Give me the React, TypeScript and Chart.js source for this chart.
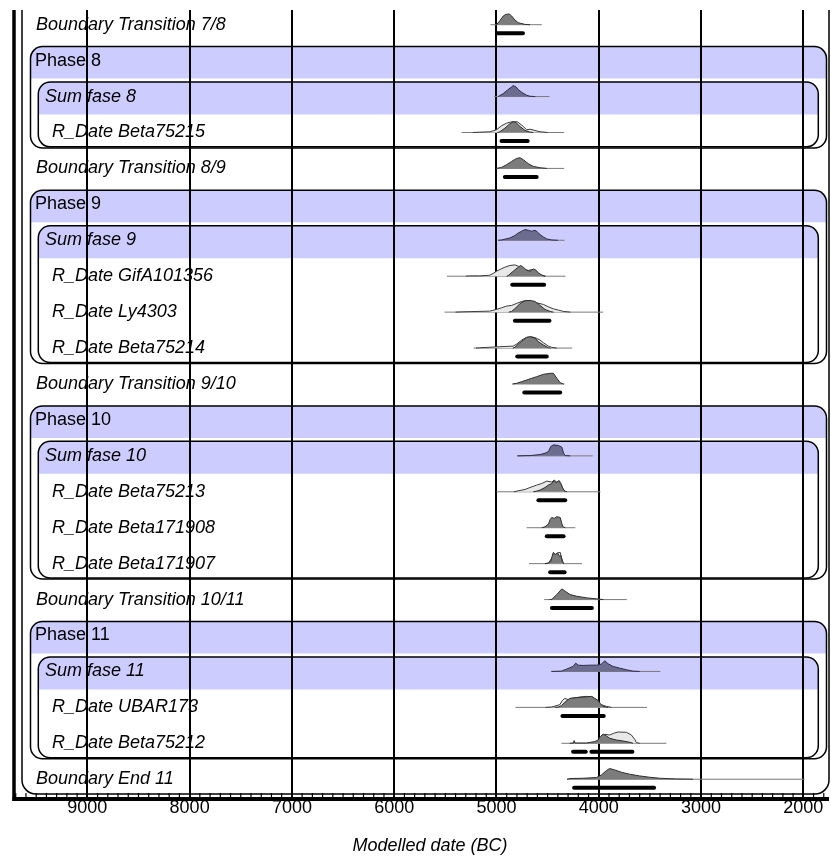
import React, { useEffect, useRef } from 'react';
import { Chart, registerables } from 'chart.js';

Chart.register(...registerables);

// ---------- Data ----------
const rowLabels = [
  'Boundary Transition 7/8',
  'Phase 8',
  'Sum fase 8',
  'R_Date Beta75215',
  'Boundary Transition 8/9',
  'Phase 9',
  'Sum fase 9',
  'R_Date GifA101356',
  'R_Date Ly4303',
  'R_Date Beta75214',
  'Boundary Transition 9/10',
  'Phase 10',
  'Sum fase 10',
  'R_Date Beta75213',
  'R_Date Beta171908',
  'R_Date Beta171907',
  'Boundary Transition 10/11',
  'Phase 11',
  'Sum fase 11',
  'R_Date UBAR173',
  'R_Date Beta75212',
  'Boundary End 11',
];
const rowKinds = [
  'boundary', 'phase', 'sum', 'date', 'boundary', 'phase', 'sum', 'date', 'date', 'date', 'boundary',
  'phase', 'sum', 'date', 'date', 'date', 'boundary', 'phase', 'sum', 'date', 'date', 'boundary',
];
const tickYears = [9000, 8000, 7000, 6000, 5000, 4000, 3000, 2000];
const minorTickYears = [
  9700, 9600, 9500, 9400, 9300, 9200, 9100, 9000, 8900, 8800, 8700, 8600, 8500, 8400, 8300, 8200, 8100,
  8000, 7900, 7800, 7700, 7600, 7500, 7400, 7300, 7200, 7100, 7000, 6900, 6800, 6700, 6600, 6500, 6400,
  6300, 6200, 6100, 6000, 5900, 5800, 5700, 5600, 5500, 5400, 5300, 5200, 5100, 5000, 4900, 4800, 4700,
  4600, 4500, 4400, 4300, 4200, 4100, 4000, 3900, 3800, 3700, 3600, 3500, 3400, 3300, 3200, 3100, 3000,
  2900, 2800, 2700, 2600, 2500, 2400, 2300, 2200, 2100, 2000, 1900, 1800,
];
const phaseStartRows = [1, 5, 11, 17];
const phaseEndRows = [3, 9, 15, 20];
const sumRows = [2, 6, 12, 18];

// distributions: [year BC, relative density]
const post0 = [[5000, 0], [4967, 4], [4934, 8.7], [4908, 10.3], [4875, 10.7], [4852, 8.7], [4820, 4.7], [4787, 2], [4721, 0.3], [4672, 0]];
const sum2 = [[4984, 0], [4967, 1], [4934, 3], [4895, 6.3], [4852, 9.7], [4836, 11], [4810, 9.7], [4787, 7], [4754, 4.3], [4705, 1.3], [4672, 0.3], [4620, 0]];
const like3 = [[5230, 0], [5164, 0.3], [5066, 0.7], [5000, 2.7], [4951, 6.7], [4902, 9.3], [4852, 10.7], [4797, 10.7], [4770, 8.7], [4738, 6], [4705, 2.7], [4672, 3.3], [4623, 2], [4574, 0.7], [4500, 0]];
const post3 = [[4990, 0], [4967, 0.7], [4918, 4.3], [4869, 8.7], [4836, 10.7], [4810, 10], [4770, 6], [4721, 2], [4672, 0.3], [4640, 0]];
const post4 = [[5000, 0], [4951, 1], [4902, 3.7], [4852, 7], [4803, 10], [4770, 10.7], [4738, 8.7], [4688, 4.7], [4639, 2], [4574, 0.7], [4508, 0]];
const sum6 = [[4984, 0], [4951, 0.3], [4869, 2.3], [4820, 4.7], [4787, 7.3], [4754, 9], [4721, 10.7], [4688, 10], [4656, 9], [4623, 10], [4600, 8.3], [4574, 5.7], [4541, 3.3], [4508, 1.3], [4459, 0.3], [4400, 0]];
const like7 = [[5300, 0], [5262, 0.3], [5164, 0.3], [5066, 1], [5033, 2.7], [5000, 5], [4967, 6.7], [4918, 9], [4869, 10.7], [4820, 11.3], [4787, 10], [4754, 6.7], [4721, 6.7], [4688, 5.7], [4656, 6.7], [4623, 5], [4590, 2.7], [4557, 0.7], [4520, 0]];
const post7 = [[4900, 0], [4885, 0.7], [4836, 5], [4797, 8.3], [4764, 10.7], [4738, 9], [4705, 6], [4672, 5], [4639, 7.3], [4613, 6], [4590, 3.3], [4557, 1.3], [4525, 0]];
const like8 = [[5400, 0], [5328, 0.3], [5066, 1], [5000, 2.7], [4951, 4.3], [4902, 6], [4852, 6.7], [4803, 8.7], [4754, 10.7], [4705, 11.7], [4672, 11], [4607, 9.3], [4541, 7.7], [4492, 5.3], [4443, 3.3], [4393, 2], [4344, 0.7], [4279, 0]];
const post8 = [[4880, 0], [4852, 0.7], [4810, 4.3], [4770, 8.7], [4721, 11.3], [4672, 11.7], [4623, 10.7], [4574, 6.7], [4525, 2.7], [4475, 0.7], [4443, 0]];
const like9 = [[5200, 0], [5164, 0.3], [4836, 2], [4803, 4], [4754, 8], [4705, 10.7], [4656, 11.3], [4613, 10], [4574, 8], [4541, 5.3], [4492, 2], [4459, 0.7], [4410, 0]];
const post9 = [[4840, 0], [4820, 0.7], [4787, 4], [4738, 8], [4705, 10.7], [4672, 11.3], [4623, 10], [4590, 6.3], [4541, 3], [4492, 0.3], [4470, 0]];
const post10 = [[4843, 0], [4803, 0.7], [4754, 2.3], [4705, 4], [4656, 5.7], [4607, 7.3], [4541, 9.7], [4469, 10.7], [4443, 10.7], [4410, 5.7], [4377, 1.3], [4344, 0]];
const sum12 = [[4797, 0], [4672, 0.3], [4574, 1.3], [4525, 2.7], [4492, 4.3], [4469, 9.3], [4443, 11], [4393, 10.3], [4361, 8.7], [4344, 2.7], [4328, 0.3], [4279, 0]];
const like13 = [[4830, 0], [4787, 1], [4721, 2.3], [4672, 4.3], [4607, 6.7], [4557, 8.3], [4508, 10.7], [4459, 9.7], [4436, 11.7], [4410, 9.7], [4384, 11], [4361, 5], [4334, 0.7], [4310, 0]];
const post13 = [[4640, 0], [4607, 0.7], [4574, 1.7], [4525, 4.3], [4492, 6.7], [4459, 8.3], [4436, 11], [4416, 9], [4393, 11], [4370, 8.3], [4351, 3.3], [4328, 0]];
const post14 = [[4557, 0], [4525, 1], [4492, 3.7], [4475, 8.3], [4459, 10.3], [4436, 9.3], [4410, 11], [4377, 10.3], [4361, 4.3], [4351, 1], [4328, 0]];
const like15 = [[4525, 0], [4492, 0.5], [4456, 6], [4443, 10.7], [4426, 9], [4403, 10.7], [4377, 11.3], [4361, 5], [4344, 0]];
const post15 = [[4525, 0], [4492, 0.7], [4469, 2.3], [4456, 7.3], [4443, 11.3], [4426, 9], [4403, 10.7], [4384, 7.3], [4370, 8], [4357, 2.3], [4344, 0]];
const post16 = [[4480, 0], [4458, 0.3], [4410, 5], [4361, 10.7], [4328, 8.3], [4280, 5], [4214, 3.3], [4116, 1.7], [4019, 0.7], [3954, 0]];
const sum18 = [[4463, 0], [4365, 0.3], [4316, 2.3], [4251, 5], [4225, 8.3], [4202, 6.3], [4153, 6], [4088, 6.3], [4023, 6.3], [3974, 7.3], [3941, 10.7], [3909, 7.7], [3860, 5], [3795, 3.3], [3730, 1.7], [3665, 0.3], [3600, 0]];
const like19 = [[4520, 0], [4463, 0.3], [4381, 2.7], [4355, 7], [4332, 9], [4300, 7.7], [4251, 9.3], [4186, 10.3], [4121, 11], [4055, 10.3], [4023, 6], [3974, 2.7], [3925, 1], [3876, 0]];
const post19 = [[4430, 0], [4397, 0.3], [4365, 1.7], [4332, 5], [4283, 9], [4218, 9.7], [4153, 10.3], [4072, 11], [4039, 9], [4007, 7], [3984, 3.7], [3958, 1], [3909, 0]];
const like20 = [[4023, 0], [3974, 6.7], [3941, 9], [3893, 8.3], [3854, 10], [3811, 11.3], [3730, 11], [3681, 8.3], [3648, 4], [3632, 0.7], [3600, 0]];
const post20 = [[4283, 0], [4248, 0.3], [4241, 2.7], [4232, 0.3], [4121, 0.3], [4039, 1.7], [4007, 3.3], [3984, 6.7], [3958, 9.3], [3925, 7.3], [3893, 5], [3828, 3.3], [3762, 2.3], [3697, 1], [3665, 0]];
const post21 = [[4310, 0], [4283, 0.7], [4153, 1], [4023, 1.7], [3974, 4.3], [3925, 8.7], [3893, 10.7], [3844, 9.3], [3779, 7], [3697, 5], [3600, 3.3], [3502, 2], [3404, 1], [3241, 0.3], [3078, 0]];

const posteriors = [
  [0, post0], [3, post3], [4, post4], [7, post7], [8, post8], [9, post9], [10, post10], [13, post13],
  [14, post14], [15, post15], [16, post16], [19, post19], [20, post20], [21, post21],
];
const sums = [[2, sum2], [6, sum6], [12, sum12], [18, sum18]];
const likelihoods = [[3, like3], [7, like7], [8, like8], [9, like9], [13, like13], [15, like15], [19, like19], [20, like20]];

// [row, from, to] (years BC)
const extents = [
  [0, 5059, 4557], [2, 5023, 4482], [3, 5341, 4338], [4, 5000, 4338], [6, 4984, 4334], [7, 5485, 4325],
  [8, 5508, 3957], [9, 5223, 4259], [10, 4843, 4334], [12, 4797, 4059], [13, 5000, 3983], [14, 4705, 4229],
  [15, 4682, 4164], [16, 4534, 3725], [18, 4463, 3398], [19, 4814, 3528], [20, 4365, 3339], [21, 4310, 1987],
];
const ranges = [
  [0, 4993, 4741], [3, 4951, 4695], [4, 4918, 4607], [7, 4846, 4534], [8, 4820, 4482], [9, 4797, 4508],
  [10, 4728, 4377], [13, 4590, 4328], [14, 4508, 4344], [15, 4475, 4334], [16, 4458, 4067], [19, 4355, 3951],
  [20, 4251, 4127], [20, 4072, 3671], [21, 4241, 3459],
];

// ---------- Style ----------
const DENSITY_TO_ROW = 1 / 35.9;
const RANGE_OFFSET = 0.237;
const FONT = '"Liberation Sans", Arial, Helvetica, sans-serif';
const LAVENDER = '#ccccff';
const W = 831;
const H = 857;

function roundRectPath(ctx, x, y, w, h, r) {
  ctx.beginPath();
  ctx.moveTo(x + r, y);
  ctx.lineTo(x + w - r, y);
  ctx.arcTo(x + w, y, x + w, y + r, r);
  ctx.lineTo(x + w, y + h - r);
  ctx.arcTo(x + w, y + h, x + w - r, y + h, r);
  ctx.lineTo(x + r, y + h);
  ctx.arcTo(x, y + h, x, y + h - r, r);
  ctx.lineTo(x, y + r);
  ctx.arcTo(x, y, x + r, y, r);
  ctx.closePath();
}

const oxcalPlugin = {
  id: 'oxcal',
  beforeDraw(chart) {
    const { ctx, chartArea: ca } = chart;
    const y = chart.scales.y;
    ctx.save();
    ctx.fillStyle = LAVENDER;
    phaseStartRows.forEach((r, i) => {
      const top = y.getPixelForValue(r - 0.39);
      const bottom = y.getPixelForValue(phaseEndRows[i] + 0.43);
      const bandBottom = y.getPixelForValue(r + 0.5);
      const left = ca.left + 16.5;
      const right = ca.right - 2.5;
      ctx.save();
      ctx.beginPath();
      ctx.rect(0, top - 2, W, bandBottom - top + 2);
      ctx.clip();
      roundRectPath(ctx, left, top, right - left, bottom - top, 12);
      ctx.fill();
      ctx.restore();
    });
    sumRows.forEach((r, i) => {
      const top = y.getPixelForValue(r - 0.405);
      const bottom = y.getPixelForValue(phaseEndRows[i] + 0.4);
      const bandBottom = y.getPixelForValue(r + 0.5);
      const left = ca.left + 24.3;
      const right = ca.right - 10.7;
      ctx.save();
      ctx.beginPath();
      ctx.rect(0, top - 2, W, bandBottom - top + 2);
      ctx.clip();
      roundRectPath(ctx, left, top, right - left, bottom - top, 12);
      ctx.fill();
      ctx.restore();
    });
    ctx.restore();
  },
  afterDraw(chart) {
    const { ctx, chartArea: ca } = chart;
    const y = chart.scales.y;
    const x = chart.scales.x;
    ctx.save();
    ctx.beginPath();
    ctx.rect(0, ca.top, W, H - ca.top);
    ctx.clip();

    ctx.strokeStyle = '#000';
    ctx.lineWidth = 1.5;
    // sequence box
    const seqBottom = y.getPixelForValue(rowLabels.length - 1 + 0.41);
    roundRectPath(ctx, ca.left + 8, ca.top - 60, ca.right - ca.left - 8, seqBottom - (ca.top - 60), 14);
    ctx.stroke();
    // phase boxes
    phaseStartRows.forEach((r, i) => {
      const top = y.getPixelForValue(r - 0.39);
      const bottom = y.getPixelForValue(phaseEndRows[i] + 0.43);
      const left = ca.left + 16.5;
      const right = ca.right - 2.5;
      roundRectPath(ctx, left, top, right - left, bottom - top, 12);
      ctx.stroke();
    });
    // sum boxes
    sumRows.forEach((r, i) => {
      const top = y.getPixelForValue(r - 0.405);
      const bottom = y.getPixelForValue(phaseEndRows[i] + 0.4);
      const left = ca.left + 24.3;
      const right = ca.right - 10.7;
      roundRectPath(ctx, left, top, right - left, bottom - top, 12);
      ctx.stroke();
    });

    // minor ticks
    ctx.lineWidth = 1.2;
    ctx.beginPath();
    minorTickYears.forEach((v) => {
      const px = x.getPixelForValue(v);
      ctx.moveTo(px, ca.bottom - 6);
      ctx.lineTo(px, ca.bottom);
    });
    ctx.stroke();
    // axis line
    ctx.lineWidth = 4;
    ctx.beginPath();
    ctx.moveTo(ca.left - 1.5, ca.bottom);
    ctx.lineTo(ca.right, ca.bottom);
    ctx.stroke();
    // left axis
    ctx.lineWidth = 3.5;
    ctx.beginPath();
    ctx.moveTo(ca.left, ca.top);
    ctx.lineTo(ca.left, ca.bottom + 2);
    ctx.stroke();

    // row labels
    ctx.fillStyle = '#000';
    ctx.textBaseline = 'middle';
    ctx.textAlign = 'left';
    rowLabels.forEach((label, i) => {
      const kind = rowKinds[i];
      const py = y.getPixelForValue(i);
      let dx = 22;
      if (kind === 'phase') dx = 21;
      else if (kind === 'sum') dx = 31;
      else if (kind === 'date') dx = 38;
      ctx.font = (kind === 'phase' ? '' : 'italic ') + '18px ' + FONT;
      ctx.fillText(label, ca.left + dx, py);
    });
    ctx.restore();

    // axis title
    ctx.save();
    ctx.fillStyle = '#000';
    ctx.font = 'italic 18px ' + FONT;
    ctx.textAlign = 'center';
    ctx.textBaseline = 'middle';
    ctx.fillText('Modelled date (BC)', 430, 846);
    ctx.restore();
  },
};

function buildDatasets() {
  const ds = [];
  extents.forEach(([row, a, b]) => {
    ds.push({
      data: [{ x: a, y: row }, { x: b, y: row }],
      borderColor: '#7a7a7a', borderWidth: 1, pointRadius: 0, fill: false, order: 6,
    });
  });
  likelihoods.forEach(([row, pts]) => {
    ds.push({
      data: pts.map(([yr, d]) => ({ x: yr, y: row - d * DENSITY_TO_ROW })),
      borderColor: '#3c3c3c', borderWidth: 1, backgroundColor: '#e8e8e8',
      fill: { value: row }, pointRadius: 0, tension: 0, order: 5,
    });
  });
  posteriors.forEach(([row, pts]) => {
    ds.push({
      data: pts.map(([yr, d]) => ({ x: yr, y: row - d * DENSITY_TO_ROW })),
      borderColor: '#2e2e2e', borderWidth: 1, backgroundColor: '#7c7c7c',
      fill: { value: row }, pointRadius: 0, tension: 0, order: 4,
    });
  });
  sums.forEach(([row, pts]) => {
    ds.push({
      data: pts.map(([yr, d]) => ({ x: yr, y: row - d * DENSITY_TO_ROW })),
      borderColor: '#2e2e48', borderWidth: 1, backgroundColor: '#6c6c8e',
      fill: { value: row }, pointRadius: 0, tension: 0, order: 4,
    });
  });
  ranges.forEach(([row, a, b]) => {
    ds.push({
      data: [{ x: a, y: row + RANGE_OFFSET }, { x: b, y: row + RANGE_OFFSET }],
      borderColor: '#000', borderWidth: 4, borderCapStyle: 'round', pointRadius: 0, fill: false, order: 1,
    });
  });
  return ds;
}

export default function App() {
  const ref = useRef(null);
  useEffect(() => {
    const chart = new Chart(ref.current, {
      type: 'line',
      data: { datasets: buildDatasets() },
      options: {
        responsive: false,
        animation: false,
        events: [],
        layout: { padding: { left: 14, right: 2, top: 10, bottom: 40 } },
        plugins: { legend: { display: false }, tooltip: { enabled: false } },
        scales: {
          x: {
            type: 'linear',
            reverse: true,
            min: 1749,
            max: 9717,
            afterBuildTicks: (axis) => {
              axis.ticks = tickYears.map((v) => ({ value: v }));
            },
            grid: { color: '#000', lineWidth: 2, drawTicks: false },
            border: { display: false },
            ticks: {
              color: '#000',
              font: { family: FONT, size: 18, lineHeight: 1 },
              padding: 0,
              maxRotation: 0,
              autoSkip: false,
              callback: (v) => String(v),
            },
          },
          y: { type: 'linear', display: false, reverse: true, min: -0.409, max: 21.55 },
        },
      },
      plugins: [oxcalPlugin],
    });
    return () => chart.destroy();
  }, []);
  return (
    <div style={{ position: 'absolute', left: 0, top: 0, width: W, height: H, background: '#fff' }}>
      <canvas ref={ref} width={W} height={H} style={{ display: 'block' }} />
    </div>
  );
}
